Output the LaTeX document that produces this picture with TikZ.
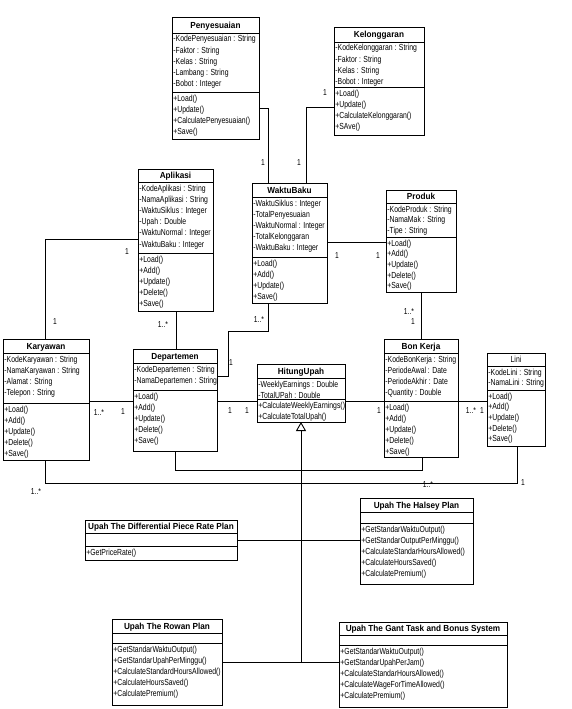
\documentclass[tikz,border=0pt]{standalone}
\usepackage{fontspec}
\setmainfont{Liberation Sans}
\newfontfamily\regf{Liberation Sans}[FakeStretch=0.78]
\newfontfamily\titf{Liberation Sans}[FakeStretch=0.93]
\usetikzlibrary{arrows.meta,calc,fit}

\tikzset{
  clsbox/.style={draw, line width=0.9pt, inner sep=0pt, outer sep=0pt},
  clsline/.style={line width=0.9pt},
  txt/.style={anchor=base west, inner sep=0pt, font=\regf\fontsize{8.8}{10}\selectfont},
  ttl/.style={anchor=base, inner sep=0pt, font=\titf\bfseries\fontsize{8.8}{10}\selectfont},
  lbl/.style={inner sep=0pt, font=\regf\fontsize{8.6}{10}\selectfont},
  conn/.style={line width=0.9pt},
}

% #1 name, #2 nw corner, #3 se corner, #4 title sep y, #5 attr sep y, #6 title, #7 attrs, #8 methods, #9 line spacing
\newcommand{\umlcls}[9]{%
  \node[clsbox, fit={(#2) (#3)}] (#1) {};
  \draw[clsline] (#1.west |- 0,#4) -- (#1.east |- 0,#4);
  \draw[clsline] (#1.west |- 0,#5) -- (#1.east |- 0,#5);
  \node[ttl] (#1-t) at ($(#1.north)!0.5!(#1.north |- 0,#4)+(0,3.4)$) {#6};
  \foreach \itm [count=\k] in {#7} {\node[txt] (#1-a\k) at ($(#1.west |- 0,#4)+(1.2,{9+(\k-1)*#9})$) {\itm};}
  \foreach \itm [count=\k] in {#8} {\node[txt] (#1-m\k) at ($(#1.west |- 0,#5)+(1.2,{9+(\k-1)*#9})$) {\itm};}
}

\begin{document}
\begin{tikzpicture}[x=1pt,y=-1pt]
\fill[white] (0,0) rectangle (571,709);
\useasboundingbox (0,0) rectangle (571,709);

\umlcls{pen}{172,17}{259,139}{33}{92}{Penyesuaian}
  {-KodePenyesuaian : String,-Faktor : String,-Kelas : String,-Lambang : String,-Bobot : Integer}
  {+Load(),+Update(),+CalculatePenyesuaian(),+Save()}{11.2}

\umlcls{kel}{334,27}{424,135}{42}{87}{Kelonggaran}
  {-KodeKelonggaran : String,-Faktor : String,-Kelas : String,-Bobot : Integer}
  {+Load(),+Update(),+CalculateKelonggaran(),+SAve()}{11.2}

\umlcls{apl}{138,169}{213,311}{182}{253}{Aplikasi}
  {-KodeAplikasi : String,-NamaAplikasi : String,-WaktuSiklus : Integer,-Upah : Double,-WaktuNormal : Integer,-WaktuBaku : Integer}
  {+Load(),+Add(),+Update(),+Delete(),+Save()}{11.2}

\umlcls{wb}{252,183}{327,303}{197}{257}{WaktuBaku}
  {-WaktuSiklus : Integer,-TotalPenyesuaian,-WaktuNormal : Integer,-TotalKelonggaran,-WaktuBaku : Integer}
  {+Load(),+Add(),+Update(),+Save()}{11.2}

\umlcls{pro}{386,190}{456,292}{203}{237}{Produk}
  {-KodeProduk : String,-NamaMak : String,-Tipe : String}
  {+Load(),+Add(),+Update(),+Delete(),+Save()}{10.7}

\umlcls{kar}{3,339}{89,460}{353}{403}{Karyawan}
  {-KodeKaryawan : String,-NamaKaryawan : String,-Alamat : String,-Telepon : String}
  {+Load(),+Add(),+Update(),+Delete(),+Save()}{11.2}

\umlcls{dep}{133,349}{217,451}{363}{390}{Departemen}
  {-KodeDepartemen : String,-NamaDepartemen : String}
  {+Load(),+Add(),+Update(),+Delete(),+Save()}{11.2}

\umlcls{hu}{257,364}{345,422}{378}{399}{HitungUpah}
  {-WeeklyEarnings : Double,-TotalUPah : Double}
  {+CalculateWeeklyEarnings(),+CalculateTotalUpah()}{11.2}

\umlcls{bon}{384,339}{458,457}{353}{401}{Bon Kerja}
  {-KodeBonKerja : String,-PeriodeAwal : Date,-PeriodeAkhir : Date,-Quantity : Double}
  {+Load(),+Add(),+Update(),+Delete(),+Save()}{11.2}

\umlcls{lini}{487,353}{545,446}{366}{390}{\regf\mdseries Lini}
  {-KodeLini : String,-NamaLini : String}
  {+Load(),+Add(),+Update(),+Delete(),+Save()}{10.7}

\umlcls{dif}{85,520}{237,560}{533}{546}{Upah The Differential Piece Rate Plan}
  {}
  {+GetPriceRate()}{11.2}

\umlcls{hal}{360,498}{473,584}{512}{523}{Upah The Halsey Plan}
  {}
  {+GetStandarWaktuOutput(),+GetStandarOutputPerMinggu(),+CalculateStandarHoursAllowed(),+CalculateHoursSaved(),+CalculatePremium()}{11.2}

\umlcls{row}{112,619}{222,705}{633}{643}{Upah The Rowan Plan}
  {}
  {+GetStandarWaktuOutput(),+GetStandarUpahPerMinggu(),+CalculateStandardHoursAllowed(),+CalculateHoursSaved(),+CalculatePremium()}{11.2}

\umlcls{gant}{339,622}{507,707}{635}{645}{Upah The Gant Task and Bonus System}
  {}
  {+GetStandarWaktuOutput(),+GetStandarUpahPerJam(),+CalculateStandarHoursAllowed(),+CalculateWageForTimeAllowed(),+CalculatePremium()}{11.2}

% associations
\draw[conn] (pen.east |- 0,108) -| (wb.north -| 268,0);
\draw[conn] (kel.west |- 0,107) -| (wb.north -| 306,0);
\draw[conn] (apl.west |- 0,239) -| (kar.north -| 45,0);
\draw[conn] (apl.south -| 176,0) -- (dep.north -| 176,0);
\draw[conn] (wb.south -| 268,0) |- (228,331) |- (dep.east |- 0,376);
\draw[conn] (wb.east |- 0,242) -- (pro.west |- 0,242);
\draw[conn] (pro.south -| 421,0) -- (bon.north -| 421,0);
\draw[conn] (kar.east |- 0,401) -- (dep.west |- 0,401);
\draw[conn] (dep.east |- 0,401) -- (hu.west |- 0,401);
\draw[conn] (hu.east |- 0,401) -- (bon.west |- 0,401);
\draw[conn] (bon.east |- 0,401) -- (lini.west |- 0,401);
\draw[conn] (dep.south -| 175,0) |- (422,470) -- (bon.south -| 422,0);
\draw[conn] (kar.south -| 45,0) |- (517,483) -- (lini.south -| 517,0);

% generalization
\coordinate (tb) at (hu.south |- 0,663);
\draw[conn, -{Triangle[open, length=9pt, width=10pt]}] (tb) -- (hu.south);
\draw[conn] (dif.east |- 0,540) -- (hal.west |- 0,540);
\draw[conn] (row.east |- 0,662) -- (gant.west |- 0,662);

% multiplicities
\node[lbl] (l1) at (263,163) {1};
\node[lbl] (l2) at (299,163) {1};
\node[lbl] (l3) at (325,93) {1};
\node[lbl] (l4) at (127,252) {1};
\node[lbl] (l5) at (55,322) {1};
\node[lbl] (l6) at (163,325) {1..*};
\node[lbl] (l7) at (259,320) {1..*};
\node[lbl] (l8) at (231,363) {1};
\node[lbl] (l9) at (337,256) {1};
\node[lbl] (l10) at (378,256) {1};
\node[lbl] (l11) at (409,312) {1..*};
\node[lbl] (l12) at (413,322) {1};
\node[lbl] (l13) at (99,413) {1..*};
\node[lbl] (l14) at (123,412) {1};
\node[lbl] (l15) at (230,411) {1};
\node[lbl] (l16) at (247,411) {1};
\node[lbl] (l17) at (379,411) {1};
\node[lbl] (l18) at (471,411) {1..*};
\node[lbl] (l19) at (482,411) {1};
\node[lbl] (l20) at (36,492) {1..*};
\node[lbl] (l21) at (523,483) {1};
\node[lbl] (l22) at (428,485) {1..*};
\end{tikzpicture}
\end{document}
